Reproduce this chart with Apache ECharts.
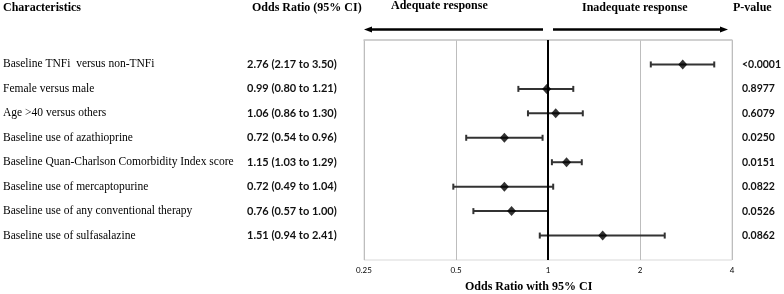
<!DOCTYPE html>
<html>
<head>
<meta charset="utf-8">
<script src="https://cdn.jsdelivr.net/npm/echarts@6/dist/echarts.min.js"></script>
<style>
html,body{margin:0;padding:0;background:#fff;}
#chart{width:784px;height:294px;}
</style>
</head>
<body>
<div id="chart"></div>
<script>
var characteristics = [
  'Baseline TNFi  versus non-TNFi',
  'Female versus male',
  'Age >40 versus others',
  'Baseline use of azathioprine',
  'Baseline Quan-Charlson Comorbidity Index score',
  'Baseline use of mercaptopurine',
  'Baseline use of any conventional therapy',
  'Baseline use of sulfasalazine'
];
var oddsRatio = [2.76, 0.99, 1.06, 0.72, 1.15, 0.72, 0.76, 1.51];
var ciLow = [2.17, 0.80, 0.86, 0.54, 1.03, 0.49, 0.57, 0.94];
var ciHigh = [3.50, 1.21, 1.30, 0.96, 1.29, 1.04, 1.00, 2.41];
var pValues = ['<0.0001', '0.8977', '0.6079', '0.0250', '0.0151', '0.0822', '0.0526', '0.0862'];
var xTicks = [0.25, 0.5, 1, 2, 4];

var myChart = echarts.init(document.getElementById('chart'));

function fmt(v){ return v.toFixed(2); }
var orText = oddsRatio.map(function(v, i){
  return fmt(v) + ' (' + fmt(ciLow[i]) + ' to ' + fmt(ciHigh[i]) + ')';
});

// category slots: empty slot at top and bottom so rows sit at 1..8
function slots(arr){ return [''].concat(arr).concat(['']); }

var points = oddsRatio.map(function(v, i){ return [v, i + 1]; });
var bars = oddsRatio.map(function(v, i){ return [ciLow[i], ciHigh[i], i + 1]; });

var serif = 'Liberation Serif';
var sans = 'Lato';

var option = {
  animation: false,
  grid: {
    left: 364, right: 49, top: 40, bottom: 34,
    show: true, borderColor: '#d9d9d9', borderWidth: 1
  },
  xAxis: {
    type: 'log',
    logBase: 2,
    min: 0.25,
    max: 4,
    axisLine: { show: true, lineStyle: { color: '#c8c8c8', width: 1.5 } },
    axisTick: { show: false },
    splitLine: { show: true, lineStyle: { color: '#bdbdbd', width: 1 } },
    axisLabel: {
      margin: 6,
      fontFamily: sans,
      fontSize: 8,
      color: '#000',
      formatter: function(v){ return xTicks.indexOf(+v) >= 0 ? String(+v) : ''; }
    }
  },
  yAxis: [{
    type: 'value', min: 0, max: 9, inverse: true, show: false
  }, {
    type: 'category', data: slots(characteristics), boundaryGap: false, inverse: true,
    position: 'left',
    axisLine: { show: false }, axisTick: { show: false }, splitLine: { show: false },
    axisLabel: { align: 'left', margin: 361, fontFamily: serif, fontSize: 11.5, color: '#000' }
  }, {
    type: 'category', data: slots(orText), boundaryGap: false, inverse: true,
    position: 'left',
    axisLine: { show: false }, axisTick: { show: false }, splitLine: { show: false },
    axisLabel: { align: 'left', margin: 117, fontFamily: sans, fontWeight: 'bold', fontSize: 11, color: '#111' }
  }, {
    type: 'category', data: slots(pValues), boundaryGap: false, inverse: true,
    position: 'right',
    axisLine: { show: false }, axisTick: { show: false }, splitLine: { show: false },
    axisLabel: { align: 'left', margin: 10, fontFamily: sans, fontWeight: 'bold', fontSize: 10.5, color: '#111' }
  }],
  series: [{
    type: 'custom',
    yAxisIndex: 0,
    data: bars,
    renderItem: function(params, api){
      var a = api.coord([api.value(0), api.value(2)]);
      var b = api.coord([api.value(1), api.value(2)]);
      var h = 3;
      var st = { stroke: '#333', lineWidth: 2 };
      return {
        type: 'group',
        children: [
          { type: 'line', shape: { x1: a[0], y1: a[1], x2: b[0], y2: b[1] }, style: st },
          { type: 'line', shape: { x1: a[0], y1: a[1] - h, x2: a[0], y2: a[1] + h }, style: st },
          { type: 'line', shape: { x1: b[0], y1: b[1] - h, x2: b[0], y2: b[1] + h }, style: st }
        ]
      };
    },
    z: 3
  }, {
    type: 'scatter',
    yAxisIndex: 0,
    data: points,
    symbol: 'diamond',
    symbolSize: [9, 10],
    itemStyle: { color: '#000' },
    z: 4,
    markLine: {
      silent: true,
      symbol: 'none',
      label: { show: false },
      lineStyle: { color: '#000', width: 2, type: 'solid' },
      data: [{ xAxis: 1 }]
    }
  }],
  graphic: [
    { type: 'text', left: 3, top: 2, style: { text: 'Characteristics', font: 'bold 12px "Liberation Serif"', fill: '#000' } },
    { type: 'text', left: 252, top: 2, style: { text: 'Odds Ratio (95% CI)', font: 'bold 12px "Liberation Serif"', fill: '#000' } },
    { type: 'text', left: 391, top: 0, style: { text: 'Adequate response', font: 'bold 12px "Liberation Serif"', fill: '#000' } },
    { type: 'text', left: 582, top: 2, style: { text: 'Inadequate response', font: 'bold 12px "Liberation Serif"', fill: '#000' } },
    { type: 'text', left: 733, top: 2, style: { text: 'P-value', font: 'bold 12px "Liberation Serif"', fill: '#000' } },
    { type: 'text', left: 465, top: 281, style: { text: 'Odds Ratio with 95% CI', font: 'bold 12px "Liberation Serif"', fill: '#000' } },
    { type: 'line', shape: { x1: 370, y1: 29.5, x2: 543, y2: 29.5 }, style: { stroke: '#000', lineWidth: 2.5 } },
    { type: 'polygon', shape: { points: [[364, 29.5], [372, 26.5], [372, 32.5]] }, style: { fill: '#000' } },
    { type: 'line', shape: { x1: 553, y1: 29.5, x2: 721, y2: 29.5 }, style: { stroke: '#000', lineWidth: 2.5 } },
    { type: 'polygon', shape: { points: [[728, 29.5], [720, 26.5], [720, 32.5]] }, style: { fill: '#000' } }
  ]
};

myChart.setOption(option);
</script>
</body>
</html>
